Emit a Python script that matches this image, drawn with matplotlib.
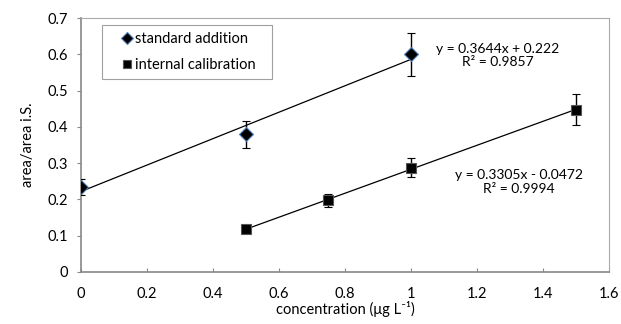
import matplotlib

matplotlib.use("Agg")
import matplotlib.pyplot as plt
import numpy as np
from matplotlib.lines import Line2D

plt.rcParams["font.family"] = ["Lato", "DejaVu Sans"]

# standard addition series
sa_x = [0.0, 0.5, 1.0]
sa_y = [0.235, 0.38, 0.60]
sa_err = [0.022, 0.037, 0.06]
sa_fit = (0.3644, 0.222)

# internal calibration series
ic_x = [0.5, 0.75, 1.0, 1.5]
ic_y = [0.118, 0.198, 0.288, 0.448]
ic_err = [0.0, 0.018, 0.027, 0.044]
ic_fit = (0.3305, -0.0472)

x_ticks = [0, 0.2, 0.4, 0.6, 0.8, 1, 1.2, 1.4, 1.6]
y_ticks = [0, 0.1, 0.2, 0.3, 0.4, 0.5, 0.6, 0.7]

FS = 10.5
SA_EDGE = "#4F81BD"
IC_EDGE = "#555555"

fig = plt.figure(figsize=(6.21, 3.24), dpi=100)
ax = fig.add_axes([0.1304, 0.1605, 0.8503, 0.7835])

# trend lines
xs = np.array([min(sa_x), max(sa_x)])
ax.plot(xs, sa_fit[0] * xs + sa_fit[1], color="black", linewidth=0.9, zorder=2)
xi = np.array([min(ic_x), max(ic_x)])
ax.plot(xi, ic_fit[0] * xi + ic_fit[1], color="black", linewidth=0.9, zorder=2)

ax.errorbar(sa_x, sa_y, yerr=sa_err, fmt="D", color="black", markersize=7.5,
            markerfacecolor="black", markeredgecolor=SA_EDGE, markeredgewidth=0.8,
            ecolor="black", elinewidth=1.0, capsize=3, capthick=1.0, zorder=3)
ax.errorbar(ic_x, ic_y, yerr=ic_err, fmt="s", color="black", markersize=7.5,
            markerfacecolor="black", markeredgecolor=IC_EDGE, markeredgewidth=0.8,
            ecolor="black", elinewidth=1.0, capsize=3, capthick=1.0, zorder=3)

ax.text(1.262, 0.597, "y = 0.3644x + 0.222\nR² = 0.9857", ha="center", va="center",
        fontsize=10, linespacing=1.15)
ax.text(1.327, 0.248, "y = 0.3305x - 0.0472\nR² = 0.9994", ha="center", va="center",
        fontsize=10, linespacing=1.15)

ax.set_xlim(0, 1.6)
ax.set_ylim(0, 0.7)
ax.set_xticks(x_ticks)
ax.set_xticklabels([f"{t:g}" for t in x_ticks])
ax.set_yticks(y_ticks)
ax.set_yticklabels([f"{t:g}" for t in y_ticks])
ax.tick_params(axis="x", direction="in", length=3, color="#888888", labelsize=FS, pad=11)
ax.tick_params(axis="y", direction="out", length=3, color="#888888", labelsize=FS, pad=6)
for side in ["left", "bottom"]:
    ax.spines[side].set_color("#888888")
    ax.spines[side].set_linewidth(1.2)
for side in ["top", "right"]:
    ax.spines[side].set_color("#aaaaaa")
    ax.spines[side].set_linewidth(0.8)

ax.set_xlabel("concentration (μg L⁻¹)", fontsize=FS, labelpad=0)
ax.set_ylabel("area/area i.S.", fontsize=FS, labelpad=9)

handles = [
    Line2D([], [], linestyle="none", marker="D", markersize=6, markerfacecolor="black",
           markeredgecolor=SA_EDGE, markeredgewidth=0.8, label="standard addition"),
    Line2D([], [], linestyle="none", marker="s", markersize=6, markerfacecolor="black",
           markeredgecolor=IC_EDGE, markeredgewidth=0.8, label="internal calibration"),
]
# legend frame spans x 102-272 px, top at y 25 px
leg = ax.legend(handles=handles, loc="upper left", mode="expand",
                bbox_to_anchor=(0.0398, 0.972, 0.322, 0.0), fontsize=FS,
                frameon=True, fancybox=False, handletextpad=-0.7, handlelength=2.5,
                borderpad=0.45, labelspacing=0.85, borderaxespad=0)
leg.get_frame().set_edgecolor("#888888")
leg.get_frame().set_linewidth(0.8)

fig.savefig("out.png", dpi=100)
